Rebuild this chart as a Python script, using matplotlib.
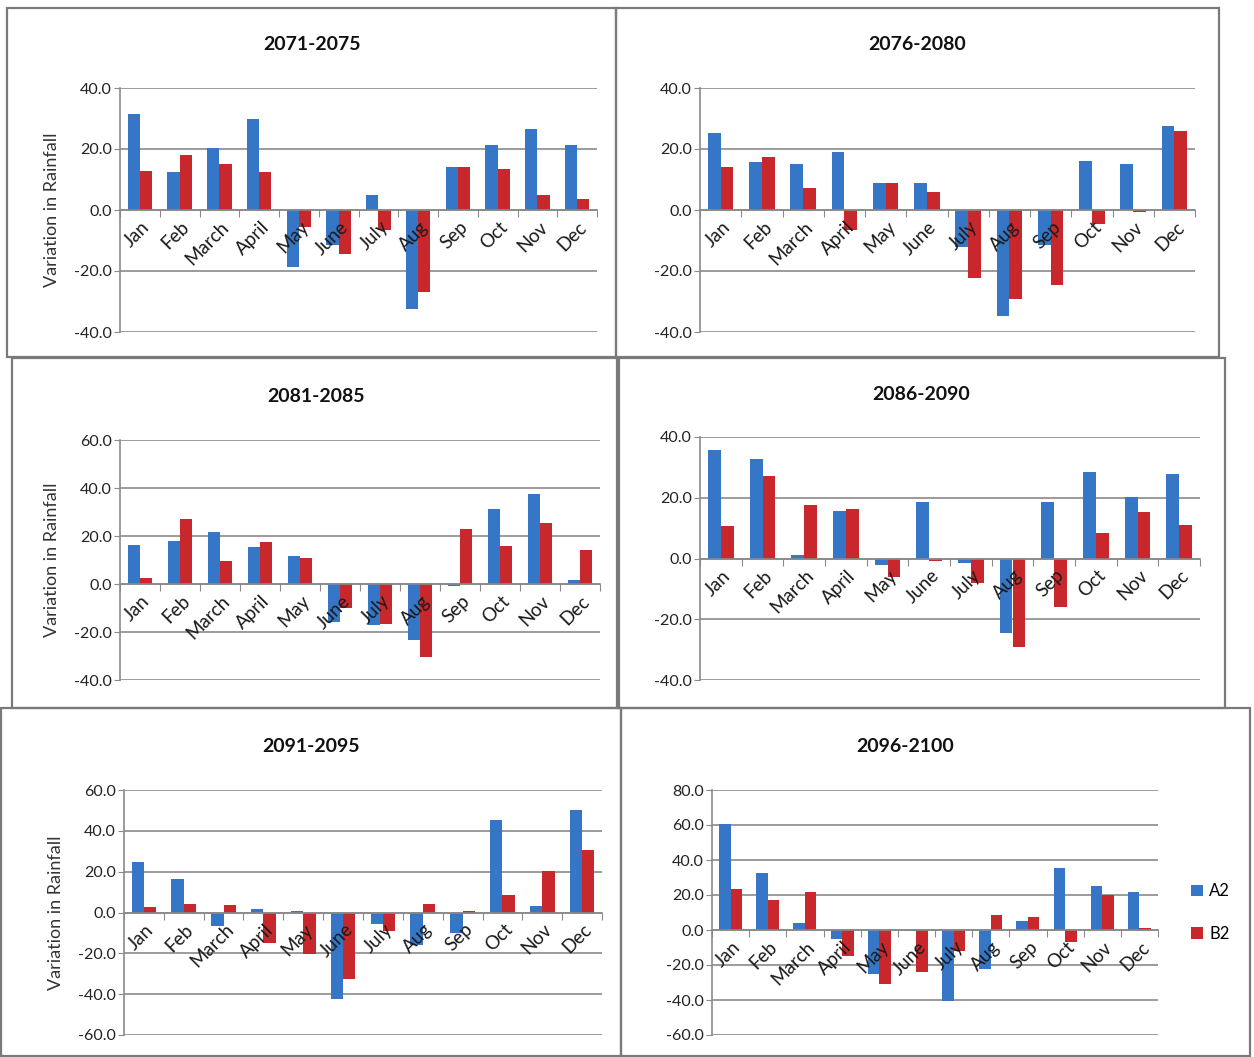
import numpy as np
import matplotlib.pyplot as plt
from matplotlib.patches import Rectangle
from matplotlib.transforms import ScaledTranslation

plt.rcParams['font.family'] = ['Lato', 'DejaVu Sans']

months = ['Jan', 'Feb', 'March', 'April', 'May', 'June', 'July', 'Aug',
          'Sep', 'Oct', 'Nov', 'Dec']

# variation in rainfall per month, scenario A2 and B2, for each 5-year window
a2_2071 = [31.5, 12.3, 20.3, 29.9, -18.7, -11.5, 4.9, -32.6, 14.0, 21.4, 26.4, 21.4]
b2_2071 = [12.9, 17.9, 15.1, 12.3, -5.5, -14.5, -6.6, -26.9, 14.0, 13.4, 4.9, 3.6]

a2_2076 = [25.3, 15.7, 15.2, 19.0, 8.8, 8.8, -12.0, -34.9, -11.5, 16.2, 15.1, 27.5]
b2_2076 = [14.1, 17.4, 7.1, -6.6, 8.8, 5.8, -22.3, -29.1, -24.5, -4.7, -0.8, 25.8]

a2_2081 = [16.3, 18.0, 21.6, 15.6, 11.6, -15.7, -17.0, -23.3, -0.8, 31.2, 37.7, 1.6]
b2_2081 = [2.6, 27.1, 9.4, 17.3, 10.9, -10.2, -16.5, -30.6, 23.0, 15.9, 25.4, 14.3]

a2_2086 = [35.7, 32.8, 1.1, 15.7, -2.2, 18.6, -1.4, -24.4, 18.6, 28.4, 20.1, 27.8]
b2_2086 = [10.6, 27.2, 17.5, 16.4, -6.1, -0.9, -8.0, -29.3, -16.0, 8.4, 15.3, 11.1]

a2_2091 = [24.9, 16.2, -6.6, 1.6, 0.8, -42.3, -5.7, -15.7, -10.0, 45.1, 3.1, 50.3]
b2_2091 = [2.5, 4.1, 3.6, -14.9, -20.2, -32.5, -9.2, 4.1, 0.8, 8.5, 20.3, 30.6]

a2_2096 = [60.4, 32.5, 4.2, -5.0, -25.0, -0.8, -40.4, -22.0, 5.2, 35.5, 25.3, 21.5]
b2_2096 = [23.4, 17.3, 21.5, -15.0, -31.0, -24.2, -12.1, 8.5, 7.5, -6.9, 20.2, 1.3]

periods = ['2071-2075', '2076-2080', '2081-2085', '2086-2090', '2091-2095', '2096-2100']
a2_sets = [a2_2071, a2_2076, a2_2081, a2_2086, a2_2091, a2_2096]
b2_sets = [b2_2071, b2_2076, b2_2081, b2_2086, b2_2091, b2_2096]
y_ranges = [(-40, 40), (-40, 40), (-40, 60), (-40, 40), (-60, 60), (-60, 80)]

# layout in pixels: outer box (x0, y0, x1, y1) and plot area (x0, y0, x1, y1)
boxes = [(7, 8, 616, 357), (616, 8, 1219, 357),
         (12, 358, 619, 708), (617, 358, 1225, 708),
         (1, 708, 621, 1056), (621, 708, 1250, 1056)]
areas = [(120, 88, 597, 332), (700, 88, 1195, 332),
         (120, 440, 600, 680), (700, 437, 1200, 680),
         (124, 790, 602, 1035), (712, 790, 1158, 1035)]
show_ylabel = [True, False, True, False, True, False]

W, H = 1254, 1057
BLUE = '#3577c6'
RED = '#c8282c'
GREY = '#8a8a8a'


def frac(x0, y0, x1, y1):
    return [x0 / W, 1 - y1 / H, (x1 - x0) / W, (y1 - y0) / H]


fig = plt.figure(figsize=(W / 100, H / 100), dpi=100)

x = np.arange(len(months))
bw = 0.31
# nudge the slanted month names right and down a little
label_shift = ScaledTranslation(7 / 100, -6 / 100, fig.dpi_scale_trans)

for i in range(6):
    bx = frac(*boxes[i])
    fig.patches.append(Rectangle((bx[0], bx[1]), bx[2], bx[3], transform=fig.transFigure,
                                 fill=False, edgecolor='#7a7a7a', linewidth=1.6))

    ax = fig.add_axes(frac(*areas[i]))
    ax.bar(x - bw / 2, a2_sets[i], bw, color=BLUE, label='A2', zorder=2)
    ax.bar(x + bw / 2, b2_sets[i], bw, color=RED, label='B2', zorder=2)

    lo, hi = y_ranges[i]
    ax.set_ylim(lo, hi)
    ax.set_xlim(-0.5, 11.5)
    ax.set_yticks(np.arange(lo, hi + 1, 20))
    ax.set_yticklabels(['%.1f' % v for v in np.arange(lo, hi + 1, 20)], fontsize=11.5,
                       color='#222222')
    ax.yaxis.grid(True, color=GREY, linewidth=1.2)
    # gridlines sit behind the bars, month names are written over them
    ax.yaxis.set_zorder(0.5)
    ax.xaxis.set_zorder(3)

    for s in ['top', 'right']:
        ax.spines[s].set_visible(False)
    ax.spines['left'].set_color(GREY)
    ax.spines['left'].set_linewidth(1.2)
    ax.spines['bottom'].set_position(('data', 0))
    ax.spines['bottom'].set_color(GREY)
    ax.spines['bottom'].set_linewidth(1.2)
    ax.spines['bottom'].set_zorder(3)

    ax.tick_params(axis='y', length=4, color=GREY, pad=2)
    ax.set_xticks(np.arange(-0.5, 12, 1))
    ax.set_xticklabels([])
    ax.tick_params(axis='x', which='major', length=5, color=GREY, direction='out')
    ax.set_xticks(x, months, minor=True)
    ax.tick_params(axis='x', which='minor', length=0, pad=6)
    for lab in ax.get_xticklabels(minor=True):
        lab.set_rotation(45)
        lab.set_ha('right')
        lab.set_va('center')
        lab.set_rotation_mode('anchor')
        lab.set_fontsize(13.5)
        lab.set_color('#1a1a1a')
        lab.set_transform(lab.get_transform() + label_shift)

    cx = (boxes[i][0] + boxes[i][2]) / 2 / W
    if i == 5:
        cx = (boxes[i][0] + 1190) / 2 / W
    fig.text(cx, 1 - (areas[i][1] - 43) / H, periods[i], ha='center', va='center',
             fontsize=14, fontweight='bold', color='#111111')

    if show_ylabel[i]:
        ax.set_ylabel('Variation in Rainfall', fontsize=13, color='#333333', labelpad=10)

    if i == 5:
        ax.legend(loc='center left', bbox_to_anchor=(1.04, 0.5), frameon=False,
                  handlelength=0.7, handleheight=0.7, labelspacing=1.6, fontsize=12,
                  handletextpad=0.4)

fig.savefig('out.png', dpi=100, facecolor='white')
